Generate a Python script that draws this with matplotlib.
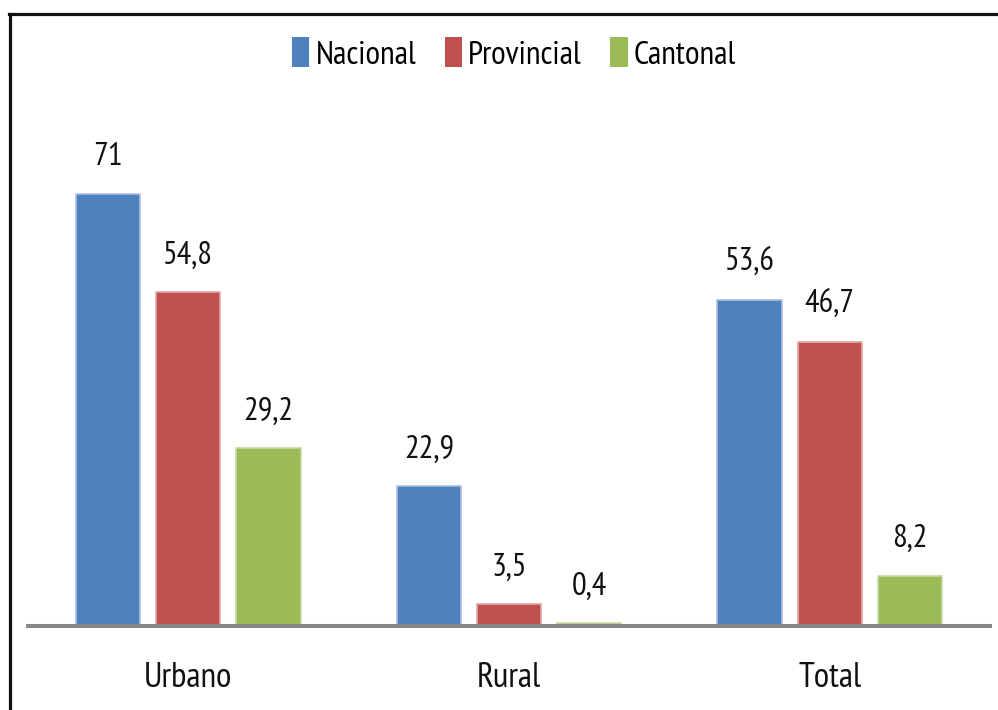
import matplotlib
matplotlib.use("Agg")
import matplotlib.pyplot as plt
from matplotlib.lines import Line2D
from matplotlib.patches import Patch
import numpy as np

# Data
categories = ["Urbano", "Rural", "Total"]
series_names = ["Nacional", "Provincial", "Cantonal"]
nacional = [71, 22.9, 53.6]
provincial = [54.8, 3.5, 46.7]
cantonal = [29.2, 0.4, 8.2]
values = [nacional, provincial, cantonal]

colors = ["#4F81BD", "#C0504D", "#9BBB59"]
edge_colors = ["#A9BFDF", "#DFA9A8", "#C6D8A6"]

plt.rcParams["font.family"] = ["PT Sans Narrow", "DejaVu Sans"]

W, H = 998, 710
fig = plt.figure(figsize=(W / 100, H / 100), dpi=100)

# axes placement (pixels -> figure fraction)
left_px, right_px = 28, 990
base_px = 625.5
ymax = 80
px_per_unit = 6.08
ax = fig.add_axes([left_px / W, (H - base_px) / H,
                   (right_px - left_px) / W, ymax * px_per_unit / H])

x = np.arange(len(categories))
bw = 0.2
offsets = [-0.25, 0.0, 0.25]
for vals, off, c, ec in zip(values, offsets, colors, edge_colors):
    bars = ax.bar(x + off, vals, width=bw, color=c, edgecolor=ec, linewidth=1.2, zorder=2)
    for b, v in zip(bars, vals):
        label = f"{v:g}".replace(".", ",")
        ax.annotate(label, xy=(b.get_x() + b.get_width() / 2, v),
                    xytext=(0, 20.5), textcoords="offset points",
                    ha="center", va="baseline", fontsize=23.5, color="#111111")

ax.set_xlim(-0.5, 2.5)
ax.set_ylim(0, ymax)
for s in ["left", "right", "top"]:
    ax.spines[s].set_visible(False)
ax.spines["bottom"].set_color("#888888")
ax.spines["bottom"].set_linewidth(2.9)
ax.spines["bottom"].set_zorder(3)
ax.set_yticks([])
ax.set_xticks(x)
ax.set_xticklabels(categories, fontsize=25.5, va="baseline", color="#111111")
ax.tick_params(axis="x", length=0, pad=44.5)
ax.patch.set_alpha(0)

# legend across the top
handles = [Patch(facecolor=c, edgecolor="none") for c in colors]
fig.legend(handles, series_names, loc="center", bbox_to_anchor=(514 / W, 1 - 54 / H),
           ncol=3, frameon=False, fontsize=24, handlelength=0.53, handleheight=1.0,
           handletextpad=0.18, columnspacing=0.85, borderpad=0)

# outer frame (left and top edges)
fig.add_artist(Line2D([10 / W, 10 / W], [0, 1 - 13.5 / H], transform=fig.transFigure,
                      color="#111111", linewidth=2.3))
fig.add_artist(Line2D([9 / W, 1], [1 - 13.5 / H, 1 - 13.5 / H], transform=fig.transFigure,
                      color="#111111", linewidth=2.3))

fig.savefig("out.png", dpi=100)
